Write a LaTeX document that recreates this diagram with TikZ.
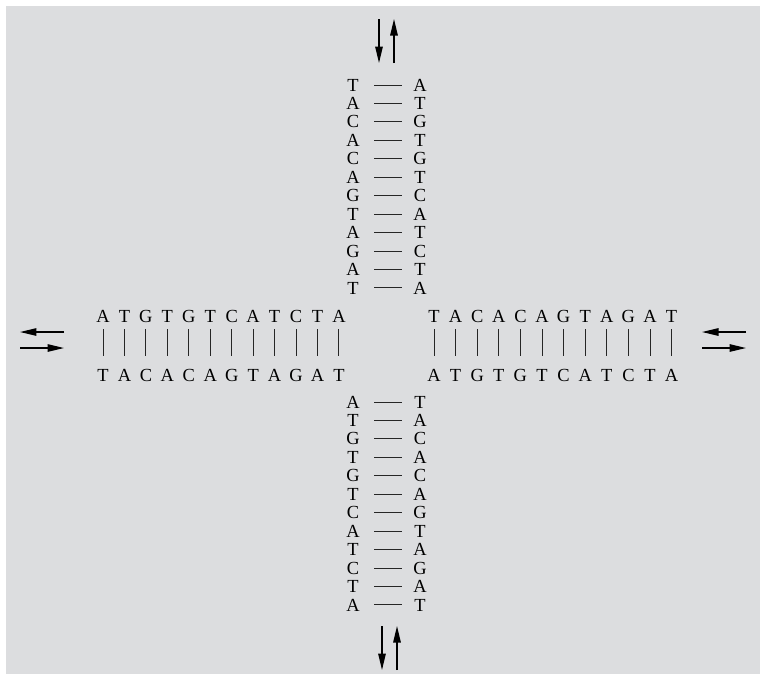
\documentclass[tikz,border=0pt]{standalone}
\usepackage{fontspec}
\setmainfont{Liberation Serif}
\usetikzlibrary{arrows.meta}
\definecolor{panel}{HTML}{DCDDDF}
\tikzset{
  base/.style={inner sep=0pt,font=\fontsize{10.5}{12}\selectfont},
  rung/.style={line width=0.55pt,black!85},
  hrung/.style={rung,shorten <=0.42cm,shorten >=0.36cm},
  vrung/.style={rung,shorten <=0.26cm,shorten >=0.38cm},
  flow/.style={line width=0.75pt,black,-{Triangle[length=3.3mm,width=1.5mm]}},
}
\begin{document}
\begin{tikzpicture}[x=0.02cm,y=-0.02cm]
  \useasboundingbox (0,0) rectangle (760,674);
  \fill[panel] (6,6) rectangle (760,674);
  % upper arm
  \foreach \l/\r [count=\i] in {T/A,A/T,C/G,A/T,C/G,A/T,G/C,T/A,A/T,G/C,A/T,T/A}{
    \node[base] (ul\i) at (353,{85+(\i-1)*18.45}) {\l};
    \node[base] (ur\i) at (420,{85+(\i-1)*18.45}) {\r};
    \draw[hrung] (ul\i.center) -- (ur\i.center);
  }
  % lower arm
  \foreach \l/\r [count=\i] in {A/T,T/A,G/C,T/A,G/C,T/A,C/G,A/T,T/A,C/G,T/A,A/T}{
    \node[base] (dl\i) at (353,{402+(\i-1)*18.45}) {\l};
    \node[base] (dr\i) at (420,{402+(\i-1)*18.45}) {\r};
    \draw[hrung] (dl\i.center) -- (dr\i.center);
  }
  % left arm
  \foreach \t/\b [count=\i] in {A/T,T/A,G/C,T/A,G/C,T/A,C/G,A/T,T/A,C/G,T/A,A/T}{
    \node[base] (lt\i) at ({103+(\i-1)*21.45},316) {\t};
    \node[base] (lb\i) at ({103+(\i-1)*21.45},375) {\b};
    \draw[vrung] (lt\i.center) -- (lb\i.center);
  }
  % right arm
  \foreach \t/\b [count=\i] in {T/A,A/T,C/G,A/T,C/G,A/T,G/C,T/A,A/T,G/C,A/T,T/A}{
    \node[base] (rt\i) at ({434+(\i-1)*21.6},316) {\t};
    \node[base] (rb\i) at ({434+(\i-1)*21.6},375) {\b};
    \draw[vrung] (rt\i.center) -- (rb\i.center);
  }
  % strand exchange arrows
  \coordinate (ua1) at (379,19); \coordinate (ua2) at (379,63);
  \coordinate (ub1) at (394,63); \coordinate (ub2) at (394,19);
  \coordinate (da1) at (382,626); \coordinate (da2) at (382,670);
  \coordinate (db1) at (397,670); \coordinate (db2) at (397,626);
  \coordinate (la1) at (64,332); \coordinate (la2) at (20,332);
  \coordinate (lb1) at (20,348); \coordinate (lb2) at (64,348);
  \coordinate (ra1) at (746,332); \coordinate (ra2) at (702,332);
  \coordinate (rb1) at (702,348); \coordinate (rb2) at (746,348);
  \draw[flow] (ua1) -- (ua2); \draw[flow] (ub1) -- (ub2);
  \draw[flow] (da1) -- (da2); \draw[flow] (db1) -- (db2);
  \draw[flow] (la1) -- (la2); \draw[flow] (lb1) -- (lb2);
  \draw[flow] (ra1) -- (ra2); \draw[flow] (rb1) -- (rb2);
\end{tikzpicture}
\end{document}
